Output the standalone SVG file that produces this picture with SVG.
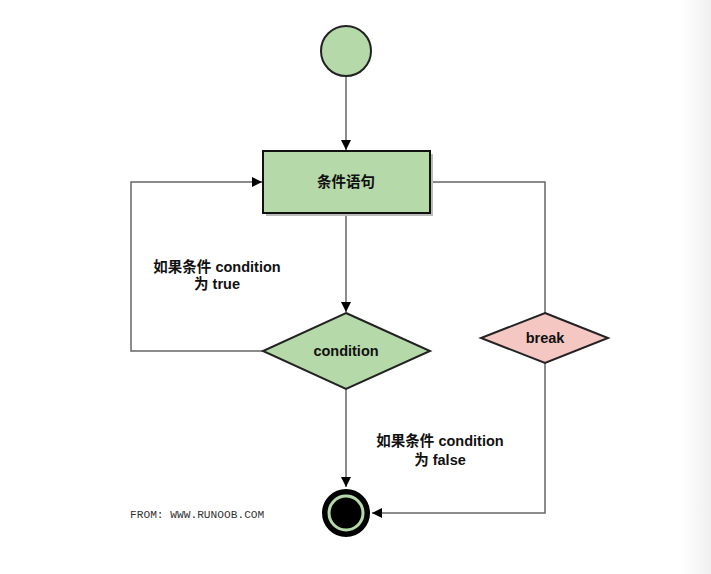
<svg xmlns="http://www.w3.org/2000/svg" width="711" height="574" viewBox="0 0 711 574">
<defs>
<linearGradient id="edge" x1="0" y1="0" x2="1" y2="0">
<stop offset="0" stop-color="#ffffff"/>
<stop offset="1" stop-color="#f0f0f0"/>
</linearGradient>
<marker id="arr" viewBox="0 0 10 10" refX="10" refY="5" markerWidth="10" markerHeight="10" markerUnits="userSpaceOnUse" orient="auto">
<path d="M0,0 L10,5 L0,10 Z" fill="#000"/>
</marker>
<style>
.ln{fill:none;stroke:#666;stroke-width:1.5}
.lbl{font-family:"Liberation Sans","Noto Sans CJK SC",sans-serif;font-weight:bold;font-size:14.5px;fill:#111;text-anchor:middle}
.node{stroke:#222;stroke-width:2}
</style>
</defs>
<rect width="711" height="574" fill="#fff"/>
<rect x="680" y="0" width="31" height="574" fill="url(#edge)"/>
<g id="connectors">
<line class="ln" x1="346" y1="76" x2="346" y2="150" marker-end="url(#arr)"/>
<line class="ln" x1="346" y1="213" x2="346" y2="312" marker-end="url(#arr)"/>
<polyline class="ln" points="263,351 131,351 131,182 262,182" marker-end="url(#arr)"/>
<polyline class="ln" points="430,182 545,182 545,313"/>
<line class="ln" x1="346" y1="389" x2="346" y2="487" marker-end="url(#arr)"/>
<polyline class="ln" points="545,363 545,513 372,513" marker-end="url(#arr)"/>
</g>
<g id="start">
<circle cx="346" cy="51" r="25" fill="#b5d9a9" class="node"/>
</g>
<g id="stmt">
<rect x="266" y="154" width="167" height="62" fill="#bbb"/>
<rect x="263" y="151" width="167" height="62" fill="#b5d9a9" stroke="#111" stroke-width="2"/>
<text class="lbl" x="346" y="187">条件语句</text>
</g>
<g id="condition">
<polygon points="346,313 430,351 346,389 263,351" fill="#b5d9a9" class="node"/>
<text class="lbl" x="346" y="356">condition</text>
</g>
<g id="break">
<polygon points="545,313 608,338 545,363 481,338" fill="#f4c7c3" class="node"/>
<text class="lbl" x="545" y="343">break</text>
</g>
<g id="end">
<circle cx="346" cy="513" r="22" fill="#000" stroke="#000" stroke-width="4"/>
<circle cx="346" cy="513" r="17" fill="#000" stroke="#b5d9a9" stroke-width="3"/>
</g>
<g id="labels">
<text class="lbl" x="217" y="272">如果条件 condition</text>
<text class="lbl" x="217" y="289">为 true</text>
<text class="lbl" x="440" y="446">如果条件 condition</text>
<text class="lbl" x="440" y="465">为 false</text>
<text x="130" y="518" font-family="'Liberation Mono',monospace" font-size="11.2" fill="#333">FROM: WWW.RUNOOB.COM</text>
</g>
</svg>
